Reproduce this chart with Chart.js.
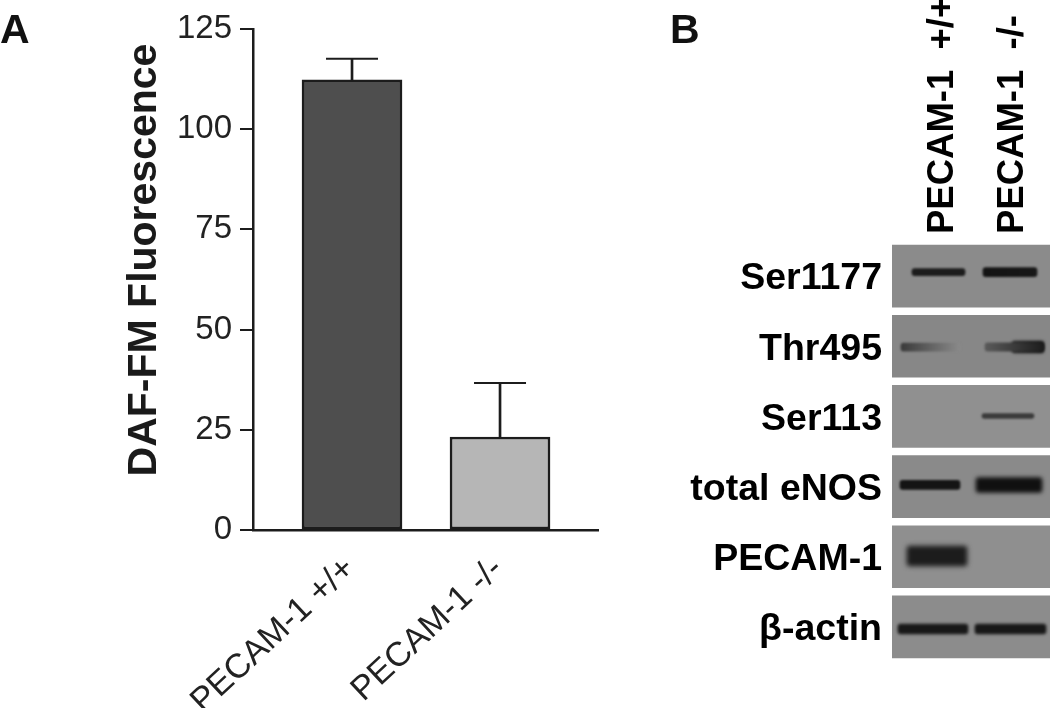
<!DOCTYPE html>
<html><head><meta charset="utf-8">
<script src="https://cdn.jsdelivr.net/npm/chart.js@4"></script>
<style>
html,body{margin:0;padding:0;background:#fff;overflow:hidden}
canvas{position:absolute;top:0}
#a{left:0}#b{left:650px}
</style></head><body>
<canvas id="a" width="650" height="708"></canvas>
<canvas id="b" width="400" height="708"></canvas>
<script>
const groups = ['PECAM-1 +/+', 'PECAM-1 -/-'];
const groupPos = [1, 2];
const fluorescence = [112.3, 23.2];
const errorTop = [117.6, 36.7];
const yTicks = [0, 25, 50, 75, 100, 125];
const yLabel = 'DAF-FM Fluorescence';

const blotRows = ['Ser1177', 'Thr495', 'Ser113', 'total eNOS', 'PECAM-1', 'β-actin'];
const blotLanes = ['PECAM-1  +/+', 'PECAM-1  -/-'];
const blotRowPos = [0, 1, 2, 3, 4, 5];
const panelTones = ['#8b8b8b', '#878787', '#909090', '#8a8a8a', '#8f8f8f', '#8c8c8c'];
// bands: [row position, lane start, lane end, thickness in row units, tone left, tone right]
const bands = [
  [-0.057, 0.571, 1.329, 0.10, '#1c1c1c', '#1c1c1c'],
  [-0.057, 1.586, 2.357, 0.13, '#141414', '#181818'],
  [1.011, 0.414, 1.257, 0.115, '#3a3a3a', '#8a8a8a'],
  [1.011, 1.614, 2.457, 0.12, '#5a5a5a', '#1c1c1c'],
  [1.011, 2.0, 2.457, 0.17, '#2a2a2a', '#161616'],
  [1.994, 1.571, 2.314, 0.07, '#3a3a3a', '#3a3a3a'],
  [2.977, 0.4, 1.257, 0.13, '#141414', '#141414'],
  [2.977, 1.486, 2.429, 0.21, '#101010', '#101010'],
  [3.989, 0.5, 1.357, 0.28, '#1c1c1c', '#1c1c1c'],
  [5.028, 0.371, 1.371, 0.14, '#181818', '#181818'],
  [5.028, 1.471, 2.486, 0.14, '#181818', '#181818']
];

const ink = '#1c1c1c';
const letter = {
  id: 'letter',
  afterDraw(c, _a, o) {
    const x = c.ctx; x.save();
    x.font = 'bold 41px "Liberation Sans"'; x.fillStyle = '#111';
    x.textBaseline = 'alphabetic'; x.fillText(o.text, o.x, 43);
    if (o.axisText) {
      x.translate(156, 260); x.rotate(-Math.PI / 2);
      x.textAlign = 'center'; x.fillStyle = '#1a1a1a';
      x.fillText(o.axisText, 0, 0);
    }
    x.restore();
  }
};
const blur = {
  id: 'blur',
  beforeDatasetDraw(c, a) {
    const t = c.data.datasets[a.index].barThickness;
    if (a.index > 0) { c.ctx.save(); c.ctx.filter = `blur(${Math.max(0.8, t / 7)}px)`; }
  },
  afterDatasetDraw(c, a) { if (a.index > 0) c.ctx.restore(); }
};

new Chart(document.getElementById('a'), {
  data: { datasets: [
    { type: 'bar', order: 3, grouped: false, barThickness: 100, borderWidth: 2.5, borderColor: ink, borderSkipped: false,
      backgroundColor: ['#4e4e4e', '#b6b6b6'],
      data: groupPos.map((p, i) => ({ x: p, y: fluorescence[i] })) },
    { type: 'bar', order: 2, grouped: false, barThickness: 2, backgroundColor: ink,
      data: groupPos.map((p, i) => ({ x: p, y: [fluorescence[i], errorTop[i]] })) },
    { type: 'scatter', order: 1, pointStyle: 'line', pointRadius: 26, pointBorderWidth: 2, pointBorderColor: ink,
      data: groupPos.map((p, i) => ({ x: p, y: errorTop[i] })) }
  ] },
  options: {
    responsive: false, animation: false,
    layout: { padding: { left: 0, top: 29, right: 52, bottom: 0 } },
    plugins: { legend: { display: false }, tooltip: { enabled: false }, letter: { text: 'A', x: 0, axisText: yLabel } },
    scales: {
      x: {
        type: 'linear', min: 0.331, max: 2.662, offset: false,
        grid: { display: false, drawTicks: false },
        border: { display: true, color: ink, width: 2.5 },
        afterBuildTicks: s => { s.ticks = groupPos.map(v => ({ value: v })); },
        afterFit: s => { s.height = 178; s.paddingLeft = 0; s.paddingRight = 0; },
        ticks: { autoSkip: false, minRotation: 43, maxRotation: 43, padding: 19, labelOffset: -2, color: '#222',
          font: { family: 'Liberation Sans', size: 34 },
          callback: (v) => groups[groupPos.indexOf(v)] }
      },
      y: {
        min: 0, max: 125,
        grid: { drawOnChartArea: false, drawTicks: true, tickLength: 13, color: ink, lineWidth: 2 },
        border: { color: ink, width: 2.5 },
        afterBuildTicks: s => { s.ticks = yTicks.map(v => ({ value: v })); },
        afterFit: s => { s.width = 253; s.paddingTop = 0; s.paddingBottom = 0; },
        ticks: { padding: 8, color: '#222', font: { family: 'Liberation Sans', size: 33 } }
      }
    }
  },
  plugins: [letter]
});

new Chart(document.getElementById('b'), {
  type: 'bar',
  data: { datasets: [
    { order: 2, grouped: false, barThickness: 62, backgroundColor: panelTones, borderWidth: 0,
      data: blotRowPos.map(r => ({ y: r, x: [0, 3] })) },
    ...bands.map(b => ({
      order: 1, grouped: false, barThickness: b[3] * 70.2, borderWidth: 0, borderRadius: 3, borderSkipped: false,
      backgroundColor: ctx => {
        const sx = ctx.chart.scales.x;
        if (!sx || !isFinite(sx.getPixelForValue(b[1]))) return b[4];
        const g = ctx.chart.ctx.createLinearGradient(sx.getPixelForValue(b[1]), 0, sx.getPixelForValue(b[2]), 0);
        g.addColorStop(0, b[4]); g.addColorStop(1, b[5]);
        return g;
      },
      data: [{ y: b[0], x: [b[1], b[2]] }]
    }))
  ] },
  options: {
    indexAxis: 'y', responsive: false, animation: false,
    layout: { padding: { left: 0, top: 0, right: 0, bottom: 46 } },
    plugins: { legend: { display: false }, tooltip: { enabled: false }, letter: { text: 'B', x: 20 } },
    scales: {
      x: {
        type: 'linear', position: 'top', min: 0.286, max: 2.543,
        grid: { display: false, drawTicks: false }, border: { display: false },
        afterBuildTicks: s => { s.ticks = [1, 2].map(v => ({ value: v })); },
        afterFit: s => { s.height = 241; s.paddingLeft = 0; s.paddingRight = 0; },
        ticks: { autoSkip: false, minRotation: 90, maxRotation: 90, padding: 7, labelOffset: 45, color: '#000',
          font: { family: 'Liberation Sans', size: 36.5, weight: 'bold' },
          callback: v => blotLanes[v - 1] }
      },
      y: {
        type: 'linear', reverse: true, min: -0.5, max: 5.5, offset: false,
        grid: { display: false, drawTicks: false }, border: { display: false },
        afterBuildTicks: s => { s.ticks = blotRowPos.map(v => ({ value: v })); },
        afterFit: s => { s.width = 242; s.paddingTop = 0; s.paddingBottom = 0; },
        ticks: { padding: 10, labelOffset: 3, color: '#000', font: { family: 'Liberation Sans', size: 37.5, weight: 'bold' },
          callback: v => blotRows[v] }
      }
    }
  },
  plugins: [letter, blur]
});
</script></body></html>
